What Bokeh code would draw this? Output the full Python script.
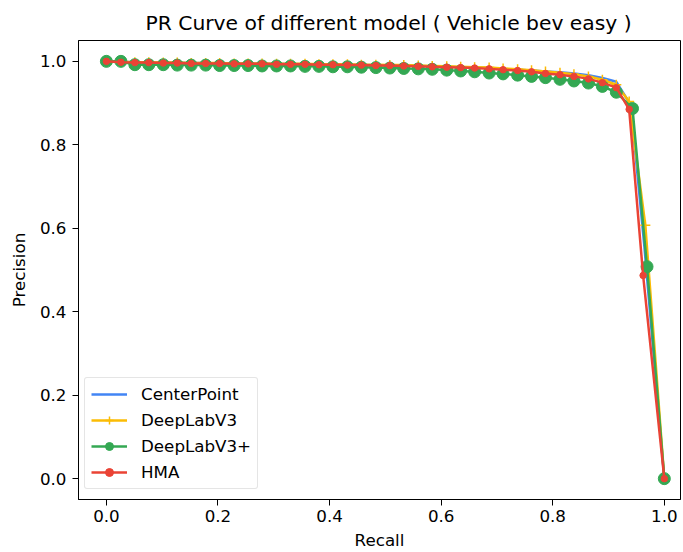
from bokeh.plotting import figure
from bokeh.models import Range1d, FixedTicker, PrintfTickFormatter, Legend, LegendItem
from bokeh.embed import file_html
from bokeh.resources import INLINE

series_names = ["CenterPoint", "DeepLabV3", "DeepLabV3+", "HMA"]

recall_common = [0.000, 0.026, 0.051, 0.076, 0.102, 0.127, 0.152, 0.178, 0.203, 0.229,
                 0.254, 0.279, 0.305, 0.330, 0.356, 0.381, 0.406, 0.432, 0.457, 0.483,
                 0.508, 0.533, 0.559, 0.584, 0.610, 0.635, 0.660, 0.686, 0.711, 0.737,
                 0.762, 0.787, 0.813, 0.838, 0.864, 0.889, 0.914]

recall_centerpoint = recall_common + [0.940, 0.964, 1.000]
recall_deeplabv3 = recall_common + [0.937, 0.966, 1.000]
recall_deeplabv3p = recall_common + [0.943, 0.969, 1.000]
recall_hma = recall_common + [0.937, 0.962, 1.000]

precision_centerpoint = [1.000, 0.999, 0.998, 0.998, 0.997, 0.997, 0.996, 0.996, 0.995, 0.995,
                         0.995, 0.994, 0.994, 0.994, 0.993, 0.993, 0.992, 0.992, 0.991, 0.991,
                         0.990, 0.990, 0.989, 0.988, 0.987, 0.986, 0.985, 0.984, 0.982, 0.980,
                         0.978, 0.976, 0.974, 0.971, 0.967, 0.960, 0.951, 0.895, 0.560, 0.000]
precision_deeplabv3 = [1.000, 0.999, 0.998, 0.998, 0.997, 0.997, 0.996, 0.996, 0.996, 0.995,
                       0.995, 0.995, 0.994, 0.994, 0.994, 0.993, 0.993, 0.993, 0.992, 0.992,
                       0.991, 0.991, 0.990, 0.989, 0.988, 0.987, 0.986, 0.985, 0.983, 0.981,
                       0.979, 0.976, 0.973, 0.969, 0.964, 0.956, 0.944, 0.904, 0.607, 0.000]
precision_deeplabv3p = [1.000, 1.000, 0.992, 0.992, 0.992, 0.991, 0.991, 0.991, 0.990, 0.990,
                        0.990, 0.989, 0.989, 0.989, 0.988, 0.988, 0.987, 0.987, 0.986, 0.985,
                        0.984, 0.983, 0.982, 0.981, 0.979, 0.977, 0.975, 0.972, 0.970, 0.967,
                        0.964, 0.961, 0.957, 0.953, 0.948, 0.940, 0.926, 0.887, 0.508, 0.000]
precision_hma = [1.000, 0.998, 0.997, 0.997, 0.996, 0.996, 0.995, 0.995, 0.995, 0.994,
                 0.994, 0.994, 0.993, 0.993, 0.993, 0.992, 0.992, 0.991, 0.991, 0.990,
                 0.990, 0.989, 0.988, 0.987, 0.986, 0.985, 0.984, 0.982, 0.980, 0.978,
                 0.975, 0.971, 0.968, 0.964, 0.958, 0.949, 0.937, 0.885, 0.487, 0.000]

tick_values = [0.0, 0.2, 0.4, 0.6, 0.8, 1.0]

FONT = "DejaVu Sans"

p = figure(width=682, height=552, output_backend="svg", toolbar_location=None,
           x_range=Range1d(-0.05, 1.029), y_range=Range1d(-0.05, 1.05),
           min_border_left=78, min_border_right=2, min_border_top=40, min_border_bottom=53,
           title="PR Curve of different model ( Vehicle bev easy )")

p.title.align = "left"
p.title.offset = 67
p.title.text_font = FONT
p.title.text_font_size = "20.3px"
p.title.text_font_style = "normal"
p.title.text_color = "black"
p.title.standoff = 12

p.xgrid.visible = False
p.ygrid.visible = False
p.outline_line_color = "black"
p.outline_line_width = 1
p.outline_line_alpha = 1

for ax in (p.xaxis[0], p.yaxis[0]):
    ax.ticker = FixedTicker(ticks=tick_values)
    ax.formatter = PrintfTickFormatter(format="%.1f")
    ax.major_tick_out = 6
    ax.major_tick_in = 0
    ax.minor_tick_line_color = None
    ax.axis_line_color = "black"
    ax.major_tick_line_color = "black"
    ax.major_label_text_font = FONT
    ax.major_label_text_font_size = "16.7px"
    ax.major_label_text_color = "black"
    ax.axis_label_text_font = FONT
    ax.axis_label_text_font_size = "16.7px"
    ax.axis_label_text_font_style = "normal"
    ax.axis_label_text_color = "black"

p.yaxis.major_label_standoff = 6
p.xaxis.major_label_standoff = 4
p.xaxis.major_label_text_line_height = 1.0
p.xaxis.axis_label_text_line_height = 1.0
p.xaxis.axis_label = "Recall"
p.yaxis.axis_label = "Precision"
p.xaxis.axis_label_standoff = 5
p.yaxis.axis_label_standoff = 8

colors = ["#4285F4", "#FBBC05", "#34A853", "#EA4335"]

l_cp = p.line(recall_centerpoint, precision_centerpoint, line_color=colors[0], line_width=2.5)

l_d3 = p.line(recall_deeplabv3, precision_deeplabv3, line_color=colors[1], line_width=2.5)
m_d3 = p.scatter(recall_deeplabv3, precision_deeplabv3, marker="cross", size=10,
                 line_color=colors[1], line_width=1.5)

l_d3p = p.line(recall_deeplabv3p, precision_deeplabv3p, line_color=colors[2], line_width=2.5)
m_d3p = p.scatter(recall_deeplabv3p, precision_deeplabv3p, marker="circle", size=12,
                  fill_color=colors[2], line_color=colors[2])

l_hma = p.line(recall_hma, precision_hma, line_color=colors[3], line_width=2.5)
m_hma = p.scatter(recall_hma, precision_hma, marker="circle", size=6.5,
                  fill_color=colors[3], line_color=colors[3])

legend = Legend(items=[
    LegendItem(label=series_names[0], renderers=[l_cp]),
    LegendItem(label=series_names[1], renderers=[l_d3, m_d3]),
    LegendItem(label=series_names[2], renderers=[l_d3p, m_d3p]),
    LegendItem(label=series_names[3], renderers=[l_hma, m_hma]),
], location=(6, 10))
legend.margin = 0
legend.padding = 6
legend.spacing = 6
legend.glyph_width = 36
legend.glyph_height = 20
legend.label_height = 20
legend.label_standoff = 14
legend.label_text_font = FONT
legend.label_text_font_size = "16.7px"
legend.label_text_color = "black"
legend.border_line_color = "#cccccc"
legend.border_line_width = 1
legend.border_radius = 3
legend.background_fill_color = "white"
legend.background_fill_alpha = 0.8
p.add_layout(legend, "center")

open("out.html", "w").write(file_html(p, INLINE))
